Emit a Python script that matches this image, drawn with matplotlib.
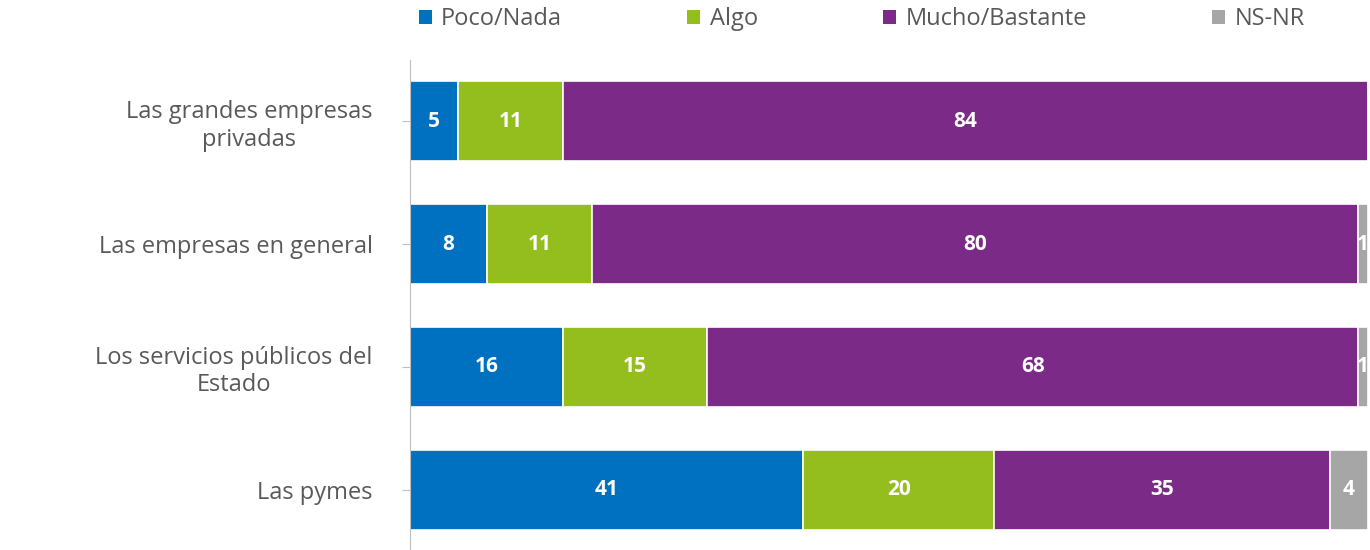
import matplotlib
matplotlib.use("Agg")
import matplotlib.pyplot as plt
from matplotlib.patches import Patch

# Data (percentages)
categories = ["Las grandes empresas\nprivadas", "Las empresas en general",
              "Los servicios públicos del\nEstado", "Las pymes"]
series_names = ["Poco/Nada", "Algo", "Mucho/Bastante", "NS-NR"]
poco_nada = [5, 8, 16, 41]
algo = [11, 11, 15, 20]
mucho = [84, 80, 68, 35]
ns_nr = [0, 1, 1, 4]
colors = ["#0070C0", "#94BE1E", "#7B2A87", "#A6A6A6"]

plt.rcParams['font.family'] = ['Open Sans', 'DejaVu Sans']
text_grey = "#595959"

fig = plt.figure(figsize=(13.7, 5.5), dpi=100)
ax = fig.add_axes([410 / 1370, -1 / 550, 958 / 1370, 491 / 550])

ypos = list(range(len(categories)))
left = [0] * len(categories)
for name, vals, col in zip(series_names, [poco_nada, algo, mucho, ns_nr], colors):
    bars = ax.barh(ypos, vals, left=left, height=0.65, color=col,
                   edgecolor="white", linewidth=1.2, label=name)
    for b, v, l in zip(bars, vals, left):
        if v > 0:
            ax.text(l + v / 2, b.get_y() + b.get_height() / 2, str(v),
                    ha="center", va="center", color="white",
                    fontsize=15, fontweight="bold")
    left = [a + b for a, b in zip(left, vals)]

ax.set_xlim(0, 100)
ax.set_ylim(len(categories) - 0.5, -0.5)
ax.set_yticks(ypos)
ax.set_yticklabels(categories, fontsize=17, color=text_grey,
                   ha="right", multialignment="center")
ax.tick_params(axis="y", length=6, color="#BFBFBF", pad=21)
ax.set_xticks([])
for s in ["top", "right", "bottom"]:
    ax.spines[s].set_visible(False)
ax.spines["left"].set_color("#BFBFBF")

handles = [Patch(facecolor=c, edgecolor="none") for c in colors]
fig.legend(handles, series_names, loc="center", ncol=4,
           bbox_to_anchor=(0.629, 0.965), frameon=False, fontsize=17,
           labelcolor=text_grey, handlelength=0.55, handleheight=0.55,
           handletextpad=0.4, columnspacing=5.3)

fig.savefig("out.png", dpi=100)
